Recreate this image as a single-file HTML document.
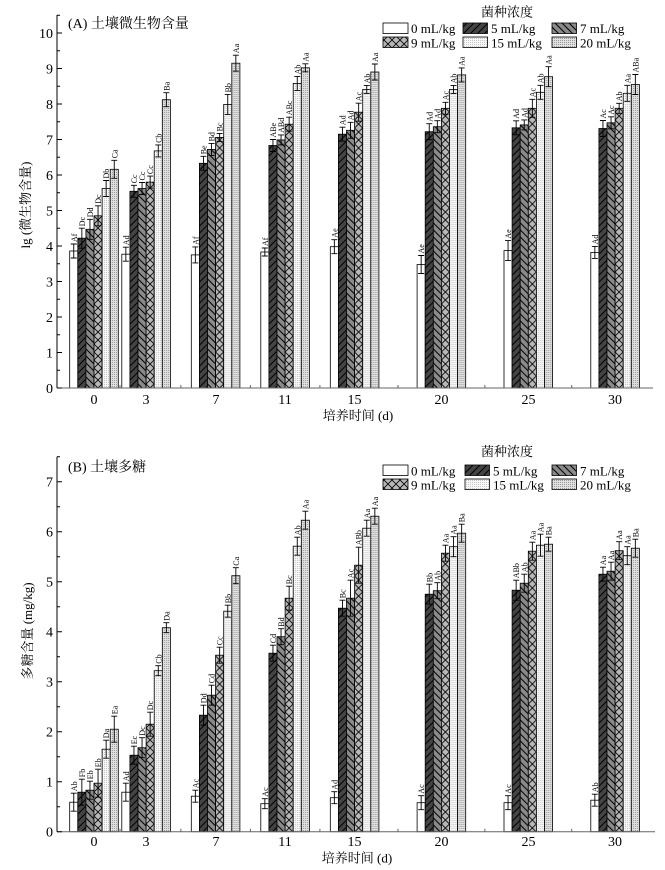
<!DOCTYPE html>
<html><head><meta charset="utf-8"><style>
html,body{margin:0;padding:0;background:#fff}
svg{display:block}
rect.b{stroke:#000;stroke-width:0.8}
.w{fill:#fff}.q5{fill:url(#p5)}.q7{fill:url(#p7)}.q9{fill:url(#p9)}.q15{fill:url(#p15)}.q20{fill:url(#p20)}
.e{stroke:#000;stroke-width:0.9;fill:none}
.l{font-family:"Liberation Serif",serif;font-size:8px;fill:#000}
.t{font-family:"Liberation Serif","Noto Serif CJK SC",serif;fill:#000}
.ax{stroke:#000;stroke-width:1;fill:none}
.xa{stroke:#666;stroke-width:1;fill:none}
</style></head><body>
<svg width="665" height="870" viewBox="0 0 665 870" xmlns="http://www.w3.org/2000/svg">
<defs>
<pattern id="p5" patternUnits="userSpaceOnUse" width="7" height="7"><rect width="7" height="7" fill="#444"/><path d="M0,7L7,0M-1,1L1,-1M6,8L8,6" stroke="#000" stroke-width="1"/></pattern>
<pattern id="p7" patternUnits="userSpaceOnUse" width="7" height="7"><rect width="7" height="7" fill="#8a8a8a"/><path d="M0,0L7,7M-1,6L1,8M6,-1L8,1" stroke="#000" stroke-width="1"/></pattern>
<pattern id="p9" patternUnits="userSpaceOnUse" width="8" height="8"><rect width="8" height="8" fill="#b8b8b8"/><path d="M0,0L8,8M0,8L8,0" stroke="#000" stroke-width="0.8"/></pattern>
<pattern id="p15" patternUnits="userSpaceOnUse" width="2" height="2"><rect width="2" height="2" fill="#f6f6f6"/><rect width="1" height="1" fill="#c8c8c8"/></pattern>
<pattern id="p20" patternUnits="userSpaceOnUse" width="2" height="2"><rect width="2" height="2" fill="#e0e0e0"/><rect width="1" height="1" fill="#9a9a9a"/></pattern>
</defs>
<rect width="665" height="870" fill="#fff"/>

<!-- ================= PANEL A ================= -->
<text class="t" x="68" y="28" font-size="14">(A) 土壤微生物含量</text>
<text class="t" x="507" y="16.5" font-size="13" text-anchor="middle">菌种浓度</text>
<rect class="b w" x="383" y="23" width="25" height="10.5"/>
<rect class="b q5" x="463" y="23" width="24.5" height="10.5"/>
<rect class="b q7" x="552" y="23" width="24.5" height="10.5"/>
<rect class="b q9" x="383" y="37" width="25" height="10.5"/>
<rect class="b q15" x="463" y="37" width="24.5" height="10.5"/>
<rect class="b q20" x="552" y="37" width="24.5" height="10.5"/>
<text class="t" font-size="13" x="411" y="33">0 mL/kg</text>
<text class="t" font-size="13" x="491" y="33">5 mL/kg</text>
<text class="t" font-size="13" x="580" y="33">7 mL/kg</text>
<text class="t" font-size="13" x="411" y="47.5">9 mL/kg</text>
<text class="t" font-size="13" x="491" y="47.5">15 mL/kg</text>
<text class="t" font-size="13" x="580" y="47.5">20 mL/kg</text>

<g transform="translate(94,0)">
<rect class="b w" x="-24.3" y="251" width="8.1" height="137"/>
<rect class="b q5" x="-16.2" y="238.2" width="8.1" height="149.8"/>
<rect class="b q7" x="-8.1" y="229.3" width="8.1" height="158.7"/>
<rect class="b q9" x="0" y="215.8" width="8.1" height="172.2"/>
<rect class="b q15" x="8.1" y="188.5" width="8.1" height="199.5"/>
<rect class="b q20" x="16.2" y="169.3" width="8.1" height="218.7"/>
<path class="e" d="M-20.25,244V258M-23.25,244h6M-23.25,258h6M-12.15,228.2V248.2M-15.15,228.2h6M-15.15,248.2h6M-4.05,219.3V239.3M-7.05,219.3h6M-7.05,239.3h6M4.05,205.8V225.8M1.05,205.8h6M1.05,225.8h6M12.15,180.5V196.5M9.15,180.5h6M9.15,196.5h6M20.25,160.3V178.3M17.25,160.3h6M17.25,178.3h6"/>
<text class="l" transform="translate(-17.25,242) rotate(-90)">Af</text>
<text class="l" transform="translate(-9.15,226.2) rotate(-90)">Dc</text>
<text class="l" transform="translate(-1.05,217.3) rotate(-90)">Dd</text>
<text class="l" transform="translate(7.05,203.8) rotate(-90)">Dc</text>
<text class="l" transform="translate(15.15,178.5) rotate(-90)">Db</text>
<text class="l" transform="translate(23.25,158.3) rotate(-90)">Ca</text>
</g>

<g transform="translate(146.1,0)">
<rect class="b w" x="-24.3" y="254.2" width="8.1" height="133.8"/>
<rect class="b q5" x="-16.2" y="191.3" width="8.1" height="196.7"/>
<rect class="b q7" x="-8.1" y="188.5" width="8.1" height="199.5"/>
<rect class="b q9" x="0" y="182.1" width="8.1" height="205.9"/>
<rect class="b q15" x="8.1" y="150.9" width="8.1" height="237.1"/>
<rect class="b q20" x="16.2" y="99.7" width="8.1" height="288.3"/>
<path class="e" d="M-20.25,247.2V261.2M-23.25,247.2h6M-23.25,261.2h6M-12.15,185.3V197.3M-15.15,185.3h6M-15.15,197.3h6M-4.05,182.5V194.5M-7.05,182.5h6M-7.05,194.5h6M4.05,176.1V188.1M1.05,176.1h6M1.05,188.1h6M12.15,144.9V156.9M9.15,144.9h6M9.15,156.9h6M20.25,92.7V106.7M17.25,92.7h6M17.25,106.7h6"/>
<text class="l" transform="translate(-17.25,245.2) rotate(-90)">Ad</text>
<text class="l" transform="translate(-9.15,183.3) rotate(-90)">Cc</text>
<text class="l" transform="translate(-1.05,180.5) rotate(-90)">Cc</text>
<text class="l" transform="translate(7.05,174.1) rotate(-90)">Cc</text>
<text class="l" transform="translate(15.15,142.9) rotate(-90)">Cb</text>
<text class="l" transform="translate(23.25,90.7) rotate(-90)">Ba</text>
</g>

<g transform="translate(215.6,0)">
<rect class="b w" x="-24.3" y="254.9" width="8.1" height="133.1"/>
<rect class="b q5" x="-16.2" y="163.3" width="8.1" height="224.7"/>
<rect class="b q7" x="-8.1" y="149.4" width="8.1" height="238.6"/>
<rect class="b q9" x="0" y="137.4" width="8.1" height="250.6"/>
<rect class="b q15" x="8.1" y="104.4" width="8.1" height="283.6"/>
<rect class="b q20" x="16.2" y="63.2" width="8.1" height="324.8"/>
<path class="e" d="M-20.25,246.9V262.9M-23.25,246.9h6M-23.25,262.9h6M-12.15,156.3V170.3M-15.15,156.3h6M-15.15,170.3h6M-4.05,143.4V155.4M-7.05,143.4h6M-7.05,155.4h6M4.05,133.4V141.4M1.05,133.4h6M1.05,141.4h6M12.15,94.4V114.4M9.15,94.4h6M9.15,114.4h6M20.25,55.2V71.2M17.25,55.2h6M17.25,71.2h6"/>
<text class="l" transform="translate(-17.25,244.9) rotate(-90)">Af</text>
<text class="l" transform="translate(-9.15,154.3) rotate(-90)">Be</text>
<text class="l" transform="translate(-1.05,141.4) rotate(-90)">Bd</text>
<text class="l" transform="translate(7.05,131.4) rotate(-90)">Bc</text>
<text class="l" transform="translate(15.15,92.4) rotate(-90)">Bb</text>
<text class="l" transform="translate(23.25,53.2) rotate(-90)">Aa</text>
</g>

<g transform="translate(285.1,0)">
<rect class="b w" x="-24.3" y="252" width="8.1" height="136"/>
<rect class="b q5" x="-16.2" y="145.5" width="8.1" height="242.5"/>
<rect class="b q7" x="-8.1" y="139.9" width="8.1" height="248.1"/>
<rect class="b q9" x="0" y="124.2" width="8.1" height="263.8"/>
<rect class="b q15" x="8.1" y="83.4" width="8.1" height="304.6"/>
<rect class="b q20" x="16.2" y="67.8" width="8.1" height="320.2"/>
<path class="e" d="M-20.25,248V256M-23.25,248h6M-23.25,256h6M-12.15,139.5V151.5M-15.15,139.5h6M-15.15,151.5h6M-4.05,134.9V144.9M-7.05,134.9h6M-7.05,144.9h6M4.05,117.2V131.2M1.05,117.2h6M1.05,131.2h6M12.15,76.4V90.4M9.15,76.4h6M9.15,90.4h6M20.25,63.8V71.8M17.25,63.8h6M17.25,71.8h6"/>
<text class="l" transform="translate(-17.25,246) rotate(-90)">Af</text>
<text class="l" transform="translate(-9.15,137.5) rotate(-90)">ABe</text>
<text class="l" transform="translate(-1.05,132.9) rotate(-90)">ABd</text>
<text class="l" transform="translate(7.05,115.2) rotate(-90)">ABc</text>
<text class="l" transform="translate(15.15,74.4) rotate(-90)">Ab</text>
<text class="l" transform="translate(23.25,61.8) rotate(-90)">Aa</text>
</g>

<g transform="translate(354.6,0)">
<rect class="b w" x="-24.3" y="246.7" width="8.1" height="141.3"/>
<rect class="b q5" x="-16.2" y="134.2" width="8.1" height="253.8"/>
<rect class="b q7" x="-8.1" y="130.3" width="8.1" height="257.7"/>
<rect class="b q9" x="0" y="112.2" width="8.1" height="275.8"/>
<rect class="b q15" x="8.1" y="89.4" width="8.1" height="298.6"/>
<rect class="b q20" x="16.2" y="72" width="8.1" height="316"/>
<path class="e" d="M-20.25,239.7V253.7M-23.25,239.7h6M-23.25,253.7h6M-12.15,127.2V141.2M-15.15,127.2h6M-15.15,141.2h6M-4.05,122.3V138.3M-7.05,122.3h6M-7.05,138.3h6M4.05,103.2V121.2M1.05,103.2h6M1.05,121.2h6M12.15,85.4V93.4M9.15,85.4h6M9.15,93.4h6M20.25,64V80M17.25,64h6M17.25,80h6"/>
<text class="l" transform="translate(-17.25,237.7) rotate(-90)">Ae</text>
<text class="l" transform="translate(-9.15,125.2) rotate(-90)">Ad</text>
<text class="l" transform="translate(-1.05,120.3) rotate(-90)">Ad</text>
<text class="l" transform="translate(7.05,101.2) rotate(-90)">Ac</text>
<text class="l" transform="translate(15.15,83.4) rotate(-90)">Ab</text>
<text class="l" transform="translate(23.25,62) rotate(-90)">Aa</text>
</g>

<g transform="translate(441.4,0)">
<rect class="b w" x="-24.3" y="264.5" width="8.1" height="123.5"/>
<rect class="b q5" x="-16.2" y="131.7" width="8.1" height="256.3"/>
<rect class="b q7" x="-8.1" y="126.7" width="8.1" height="261.3"/>
<rect class="b q9" x="0" y="108.3" width="8.1" height="279.7"/>
<rect class="b q15" x="8.1" y="89.4" width="8.1" height="298.6"/>
<rect class="b q20" x="16.2" y="74.9" width="8.1" height="313.1"/>
<path class="e" d="M-20.25,255.5V273.5M-23.25,255.5h6M-23.25,273.5h6M-12.15,123.7V139.7M-15.15,123.7h6M-15.15,139.7h6M-4.05,120.7V132.7M-7.05,120.7h6M-7.05,132.7h6M4.05,102.3V114.3M1.05,102.3h6M1.05,114.3h6M12.15,85.4V93.4M9.15,85.4h6M9.15,93.4h6M20.25,67.9V81.9M17.25,67.9h6M17.25,81.9h6"/>
<text class="l" transform="translate(-17.25,253.5) rotate(-90)">Ae</text>
<text class="l" transform="translate(-9.15,121.7) rotate(-90)">Ad</text>
<text class="l" transform="translate(-1.05,118.7) rotate(-90)">Ad</text>
<text class="l" transform="translate(7.05,100.3) rotate(-90)">Ac</text>
<text class="l" transform="translate(15.15,83.4) rotate(-90)">Ab</text>
<text class="l" transform="translate(23.25,65.9) rotate(-90)">Aa</text>
</g>

<g transform="translate(528.3,0)">
<rect class="b w" x="-24.3" y="250.6" width="8.1" height="137.4"/>
<rect class="b q5" x="-16.2" y="127.8" width="8.1" height="260.2"/>
<rect class="b q7" x="-8.1" y="124.9" width="8.1" height="263.1"/>
<rect class="b q9" x="0" y="108.3" width="8.1" height="279.7"/>
<rect class="b q15" x="8.1" y="92.3" width="8.1" height="295.7"/>
<rect class="b q20" x="16.2" y="76.7" width="8.1" height="311.3"/>
<path class="e" d="M-20.25,240.6V260.6M-23.25,240.6h6M-23.25,260.6h6M-12.15,120.8V134.8M-15.15,120.8h6M-15.15,134.8h6M-4.05,119.9V129.9M-7.05,119.9h6M-7.05,129.9h6M4.05,99.3V117.3M1.05,99.3h6M1.05,117.3h6M12.15,85.3V99.3M9.15,85.3h6M9.15,99.3h6M20.25,66.7V86.7M17.25,66.7h6M17.25,86.7h6"/>
<text class="l" transform="translate(-17.25,238.6) rotate(-90)">Ae</text>
<text class="l" transform="translate(-9.15,118.8) rotate(-90)">Ad</text>
<text class="l" transform="translate(-1.05,117.9) rotate(-90)">Ad</text>
<text class="l" transform="translate(7.05,97.3) rotate(-90)">Ac</text>
<text class="l" transform="translate(15.15,83.3) rotate(-90)">Ab</text>
<text class="l" transform="translate(23.25,64.7) rotate(-90)">Aa</text>
</g>

<g transform="translate(615.1,0)">
<rect class="b w" x="-24.3" y="252.4" width="8.1" height="135.6"/>
<rect class="b q5" x="-16.2" y="128.5" width="8.1" height="259.5"/>
<rect class="b q7" x="-8.1" y="122.8" width="8.1" height="265.2"/>
<rect class="b q9" x="0" y="108.3" width="8.1" height="279.7"/>
<rect class="b q15" x="8.1" y="93.3" width="8.1" height="294.7"/>
<rect class="b q20" x="16.2" y="84.5" width="8.1" height="303.5"/>
<path class="e" d="M-20.25,246.4V258.4M-23.25,246.4h6M-23.25,258.4h6M-12.15,120.5V136.5M-15.15,120.5h6M-15.15,136.5h6M-4.05,116.8V128.8M-7.05,116.8h6M-7.05,128.8h6M4.05,103.3V113.3M1.05,103.3h6M1.05,113.3h6M12.15,85.3V101.3M9.15,85.3h6M9.15,101.3h6M20.25,74.5V94.5M17.25,74.5h6M17.25,94.5h6"/>
<text class="l" transform="translate(-17.25,244.4) rotate(-90)">Ad</text>
<text class="l" transform="translate(-9.15,118.5) rotate(-90)">Ac</text>
<text class="l" transform="translate(-1.05,114.8) rotate(-90)">Ac</text>
<text class="l" transform="translate(7.05,101.3) rotate(-90)">Ab</text>
<text class="l" transform="translate(15.15,83.3) rotate(-90)">Aa</text>
<text class="l" transform="translate(23.25,72.5) rotate(-90)">ABa</text>
</g>

<!-- axes A -->
<path class="xa" d="M57,388H653M120,388v-3M180.9,388v-3M250.4,388v-3M319.9,388v-3M398,388v-3M484.9,388v-3M571.7,388v-3"/>
<path class="ax" d="M57,15V388M57,388h5M57,352.5h5M57,317h5M57,281.5h5M57,246h5M57,210.5h5M57,175h5M57,139.5h5M57,104h5M57,68.5h5M57,33h5M57,370.25h3M57,334.75h3M57,299.25h3M57,263.75h3M57,228.25h3M57,192.75h3M57,157.25h3M57,121.75h3M57,86.25h3M57,50.75h3M57,15.25h3"/>
<g class="t" font-size="14" text-anchor="end">
<text x="53" y="393">0</text><text x="53" y="357.5">1</text><text x="53" y="322">2</text><text x="53" y="286.5">3</text><text x="53" y="251">4</text><text x="53" y="215.5">5</text><text x="53" y="180">6</text><text x="53" y="144.5">7</text><text x="53" y="109">8</text><text x="53" y="73.5">9</text><text x="53" y="38">10</text>
</g>
<g class="t" font-size="14" text-anchor="middle">
<text x="94" y="404">0</text><text x="146" y="404">3</text><text x="216" y="404">7</text><text x="285" y="404">11</text><text x="354.5" y="404">15</text><text x="441.5" y="404">20</text><text x="528.5" y="404">25</text><text x="615" y="404">30</text>
</g>
<text class="t" font-size="13" x="358" y="420" text-anchor="middle">培养时间 (d)</text>
<text class="t" font-size="13" text-anchor="middle" transform="translate(30,205) rotate(-90)">lg (微生物含量)</text>

<!-- ================= PANEL B ================= -->
<text class="t" x="68" y="471.5" font-size="14">(B) 土壤多糖</text>
<text class="t" x="507" y="456" font-size="13" text-anchor="middle">菌种浓度</text>
<rect class="b w" x="383" y="465" width="25" height="10.5"/>
<rect class="b q5" x="465" y="465" width="24.5" height="10.5"/>
<rect class="b q7" x="552" y="465" width="24.5" height="10.5"/>
<rect class="b q9" x="383" y="479" width="25" height="10.5"/>
<rect class="b q15" x="465" y="479" width="24.5" height="10.5"/>
<rect class="b q20" x="552" y="479" width="24.5" height="10.5"/>
<text class="t" font-size="13" x="411" y="475.5">0 mL/kg</text>
<text class="t" font-size="13" x="493" y="475.5">5 mL/kg</text>
<text class="t" font-size="13" x="580" y="475.5">7 mL/kg</text>
<text class="t" font-size="13" x="411" y="489.5">9 mL/kg</text>
<text class="t" font-size="13" x="493" y="489.5">15 mL/kg</text>
<text class="t" font-size="13" x="580" y="489.5">20 mL/kg</text>

<g transform="translate(94,0)">
<rect class="b w" x="-24.3" y="802.2" width="8.1" height="29.5"/>
<rect class="b q5" x="-16.2" y="792.2" width="8.1" height="39.5"/>
<rect class="b q7" x="-8.1" y="790.2" width="8.1" height="41.5"/>
<rect class="b q9" x="0" y="783.2" width="8.1" height="48.5"/>
<rect class="b q15" x="8.1" y="749.2" width="8.1" height="82.5"/>
<rect class="b q20" x="16.2" y="729.2" width="8.1" height="102.5"/>
<path class="e" d="M-20.25,793.2V811.2M-23.25,793.2h6M-23.25,811.2h6M-12.15,779.2V805.2M-15.15,779.2h6M-15.15,805.2h6M-4.05,781.2V799.2M-7.05,781.2h6M-7.05,799.2h6M4.05,769.2V797.2M1.05,769.2h6M1.05,797.2h6M12.15,740.2V758.2M9.15,740.2h6M9.15,758.2h6M20.25,716.2V742.2M17.25,716.2h6M17.25,742.2h6"/>
<text class="l" transform="translate(-17.25,791.2) rotate(-90)">Ab</text>
<text class="l" transform="translate(-9.15,777.2) rotate(-90)">Fb</text>
<text class="l" transform="translate(-1.05,779.2) rotate(-90)">Eb</text>
<text class="l" transform="translate(7.05,767.2) rotate(-90)">Eb</text>
<text class="l" transform="translate(15.15,738.2) rotate(-90)">Da</text>
<text class="l" transform="translate(23.25,714.2) rotate(-90)">Ea</text>
</g>

<g transform="translate(146.1,0)">
<rect class="b w" x="-24.3" y="792.2" width="8.1" height="39.5"/>
<rect class="b q5" x="-16.2" y="755.2" width="8.1" height="76.5"/>
<rect class="b q7" x="-8.1" y="747.7" width="8.1" height="84"/>
<rect class="b q9" x="0" y="724.2" width="8.1" height="107.5"/>
<rect class="b q15" x="8.1" y="670.7" width="8.1" height="161"/>
<rect class="b q20" x="16.2" y="627.7" width="8.1" height="204"/>
<path class="e" d="M-20.25,783.2V801.2M-23.25,783.2h6M-23.25,801.2h6M-12.15,746.2V764.2M-15.15,746.2h6M-15.15,764.2h6M-4.05,737.7V757.7M-7.05,737.7h6M-7.05,757.7h6M4.05,712.2V736.2M1.05,712.2h6M1.05,736.2h6M12.15,665.7V675.7M9.15,665.7h6M9.15,675.7h6M20.25,622.7V632.7M17.25,622.7h6M17.25,632.7h6"/>
<text class="l" transform="translate(-17.25,781.2) rotate(-90)">Ad</text>
<text class="l" transform="translate(-9.15,744.2) rotate(-90)">Ec</text>
<text class="l" transform="translate(-1.05,735.7) rotate(-90)">Dc</text>
<text class="l" transform="translate(7.05,710.2) rotate(-90)">Dc</text>
<text class="l" transform="translate(15.15,663.7) rotate(-90)">Cb</text>
<text class="l" transform="translate(23.25,620.7) rotate(-90)">Da</text>
</g>

<g transform="translate(215.6,0)">
<rect class="b w" x="-24.3" y="796.2" width="8.1" height="35.5"/>
<rect class="b q5" x="-16.2" y="715.2" width="8.1" height="116.5"/>
<rect class="b q7" x="-8.1" y="695.2" width="8.1" height="136.5"/>
<rect class="b q9" x="0" y="655.2" width="8.1" height="176.5"/>
<rect class="b q15" x="8.1" y="611.2" width="8.1" height="220.5"/>
<rect class="b q20" x="16.2" y="575.7" width="8.1" height="256"/>
<path class="e" d="M-20.25,790.2V802.2M-23.25,790.2h6M-23.25,802.2h6M-12.15,705.2V725.2M-15.15,705.2h6M-15.15,725.2h6M-4.05,685.2V705.2M-7.05,685.2h6M-7.05,705.2h6M4.05,647.2V663.2M1.05,647.2h6M1.05,663.2h6M12.15,605.2V617.2M9.15,605.2h6M9.15,617.2h6M20.25,567.7V583.7M17.25,567.7h6M17.25,583.7h6"/>
<text class="l" transform="translate(-17.25,788.2) rotate(-90)">Ac</text>
<text class="l" transform="translate(-9.15,703.2) rotate(-90)">Dd</text>
<text class="l" transform="translate(-1.05,683.2) rotate(-90)">Cd</text>
<text class="l" transform="translate(7.05,645.2) rotate(-90)">Cc</text>
<text class="l" transform="translate(15.15,603.2) rotate(-90)">Bb</text>
<text class="l" transform="translate(23.25,565.7) rotate(-90)">Ca</text>
</g>

<g transform="translate(285.1,0)">
<rect class="b w" x="-24.3" y="803.7" width="8.1" height="28"/>
<rect class="b q5" x="-16.2" y="653.2" width="8.1" height="178.5"/>
<rect class="b q7" x="-8.1" y="636.7" width="8.1" height="195"/>
<rect class="b q9" x="0" y="598.2" width="8.1" height="233.5"/>
<rect class="b q15" x="8.1" y="546.2" width="8.1" height="285.5"/>
<rect class="b q20" x="16.2" y="520.2" width="8.1" height="311.5"/>
<path class="e" d="M-20.25,798.7V808.7M-23.25,798.7h6M-23.25,808.7h6M-12.15,645.2V661.2M-15.15,645.2h6M-15.15,661.2h6M-4.05,628.7V644.7M-7.05,628.7h6M-7.05,644.7h6M4.05,586.2V610.2M1.05,586.2h6M1.05,610.2h6M12.15,537.2V555.2M9.15,537.2h6M9.15,555.2h6M20.25,511.2V529.2M17.25,511.2h6M17.25,529.2h6"/>
<text class="l" transform="translate(-17.25,796.7) rotate(-90)">Ac</text>
<text class="l" transform="translate(-9.15,643.2) rotate(-90)">Cd</text>
<text class="l" transform="translate(-1.05,626.7) rotate(-90)">Bd</text>
<text class="l" transform="translate(7.05,584.2) rotate(-90)">Bc</text>
<text class="l" transform="translate(15.15,535.2) rotate(-90)">Ab</text>
<text class="l" transform="translate(23.25,509.2) rotate(-90)">Aa</text>
</g>

<g transform="translate(354.6,0)">
<rect class="b w" x="-24.3" y="797.7" width="8.1" height="34"/>
<rect class="b q5" x="-16.2" y="608.2" width="8.1" height="223.5"/>
<rect class="b q7" x="-8.1" y="598.2" width="8.1" height="233.5"/>
<rect class="b q9" x="0" y="565.2" width="8.1" height="266.5"/>
<rect class="b q15" x="8.1" y="528.2" width="8.1" height="303.5"/>
<rect class="b q20" x="16.2" y="516.2" width="8.1" height="315.5"/>
<path class="e" d="M-20.25,791.7V803.7M-23.25,791.7h6M-23.25,803.7h6M-12.15,600.2V616.2M-15.15,600.2h6M-15.15,616.2h6M-4.05,580.2V616.2M-7.05,580.2h6M-7.05,616.2h6M4.05,547.2V583.2M1.05,547.2h6M1.05,583.2h6M12.15,520.2V536.2M9.15,520.2h6M9.15,536.2h6M20.25,508.2V524.2M17.25,508.2h6M17.25,524.2h6"/>
<text class="l" transform="translate(-17.25,789.7) rotate(-90)">Ad</text>
<text class="l" transform="translate(-9.15,598.2) rotate(-90)">Bc</text>
<text class="l" transform="translate(-1.05,578.2) rotate(-90)">Ac</text>
<text class="l" transform="translate(7.05,545.2) rotate(-90)">ABb</text>
<text class="l" transform="translate(15.15,518.2) rotate(-90)">Aa</text>
<text class="l" transform="translate(23.25,506.2) rotate(-90)">Aa</text>
</g>

<g transform="translate(441.4,0)">
<rect class="b w" x="-24.3" y="802.7" width="8.1" height="29"/>
<rect class="b q5" x="-16.2" y="594.2" width="8.1" height="237.5"/>
<rect class="b q7" x="-8.1" y="590.7" width="8.1" height="241"/>
<rect class="b q9" x="0" y="553.2" width="8.1" height="278.5"/>
<rect class="b q15" x="8.1" y="546.7" width="8.1" height="285"/>
<rect class="b q20" x="16.2" y="533.2" width="8.1" height="298.5"/>
<path class="e" d="M-20.25,795.7V809.7M-23.25,795.7h6M-23.25,809.7h6M-12.15,584.2V604.2M-15.15,584.2h6M-15.15,604.2h6M-4.05,582.7V598.7M-7.05,582.7h6M-7.05,598.7h6M4.05,545.2V561.2M1.05,545.2h6M1.05,561.2h6M12.15,536.7V556.7M9.15,536.7h6M9.15,556.7h6M20.25,524.2V542.2M17.25,524.2h6M17.25,542.2h6"/>
<text class="l" transform="translate(-17.25,793.7) rotate(-90)">Ac</text>
<text class="l" transform="translate(-9.15,582.2) rotate(-90)">Bb</text>
<text class="l" transform="translate(-1.05,580.7) rotate(-90)">Ab</text>
<text class="l" transform="translate(7.05,543.2) rotate(-90)">Aa</text>
<text class="l" transform="translate(15.15,534.7) rotate(-90)">Aa</text>
<text class="l" transform="translate(23.25,522.2) rotate(-90)">Ba</text>
</g>

<g transform="translate(528.3,0)">
<rect class="b w" x="-24.3" y="802.7" width="8.1" height="29"/>
<rect class="b q5" x="-16.2" y="590.2" width="8.1" height="241.5"/>
<rect class="b q7" x="-8.1" y="583.2" width="8.1" height="248.5"/>
<rect class="b q9" x="0" y="551.2" width="8.1" height="280.5"/>
<rect class="b q15" x="8.1" y="545.2" width="8.1" height="286.5"/>
<rect class="b q20" x="16.2" y="544.2" width="8.1" height="287.5"/>
<path class="e" d="M-20.25,795.7V809.7M-23.25,795.7h6M-23.25,809.7h6M-12.15,580.2V600.2M-15.15,580.2h6M-15.15,600.2h6M-4.05,574.2V592.2M-7.05,574.2h6M-7.05,592.2h6M4.05,542.2V560.2M1.05,542.2h6M1.05,560.2h6M12.15,534.2V556.2M9.15,534.2h6M9.15,556.2h6M20.25,537.2V551.2M17.25,537.2h6M17.25,551.2h6"/>
<text class="l" transform="translate(-17.25,793.7) rotate(-90)">Ac</text>
<text class="l" transform="translate(-9.15,578.2) rotate(-90)">ABb</text>
<text class="l" transform="translate(-1.05,572.2) rotate(-90)">Ab</text>
<text class="l" transform="translate(7.05,540.2) rotate(-90)">Aa</text>
<text class="l" transform="translate(15.15,532.2) rotate(-90)">Aa</text>
<text class="l" transform="translate(23.25,535.2) rotate(-90)">Ba</text>
</g>

<g transform="translate(615.1,0)">
<rect class="b w" x="-24.3" y="800.2" width="8.1" height="31.5"/>
<rect class="b q5" x="-16.2" y="574.2" width="8.1" height="257.5"/>
<rect class="b q7" x="-8.1" y="571.2" width="8.1" height="260.5"/>
<rect class="b q9" x="0" y="550.7" width="8.1" height="281"/>
<rect class="b q15" x="8.1" y="555.7" width="8.1" height="276"/>
<rect class="b q20" x="16.2" y="548.2" width="8.1" height="283.5"/>
<path class="e" d="M-20.25,794.2V806.2M-23.25,794.2h6M-23.25,806.2h6M-12.15,567.2V581.2M-15.15,567.2h6M-15.15,581.2h6M-4.05,562.2V580.2M-7.05,562.2h6M-7.05,580.2h6M4.05,541.7V559.7M1.05,541.7h6M1.05,559.7h6M12.15,546.7V564.7M9.15,546.7h6M9.15,564.7h6M20.25,539.2V557.2M17.25,539.2h6M17.25,557.2h6"/>
<text class="l" transform="translate(-17.25,792.2) rotate(-90)">Ab</text>
<text class="l" transform="translate(-9.15,565.2) rotate(-90)">Aa</text>
<text class="l" transform="translate(-1.05,560.2) rotate(-90)">Aa</text>
<text class="l" transform="translate(7.05,539.7) rotate(-90)">Aa</text>
<text class="l" transform="translate(15.15,544.7) rotate(-90)">Aa</text>
<text class="l" transform="translate(23.25,537.2) rotate(-90)">Ba</text>
</g>

<!-- axes B -->
<path class="xa" d="M57,831.7H655M120,831.7v-3M180.9,831.7v-3M250.4,831.7v-3M319.9,831.7v-3M398,831.7v-3M484.9,831.7v-3M571.7,831.7v-3"/>
<path class="ax" d="M57,456.7V831.7M57,831.7h5M57,781.7h5M57,731.7h5M57,681.7h5M57,631.7h5M57,581.7h5M57,531.7h5M57,481.7h5M57,806.7h3M57,756.7h3M57,706.7h3M57,656.7h3M57,606.7h3M57,556.7h3M57,506.7h3M57,456.7h3"/>
<g class="t" font-size="14" text-anchor="end">
<text x="53" y="836.7">0</text><text x="53" y="786.7">1</text><text x="53" y="736.7">2</text><text x="53" y="686.7">3</text><text x="53" y="636.7">4</text><text x="53" y="586.7">5</text><text x="53" y="536.7">6</text><text x="53" y="486.7">7</text>
</g>
<g class="t" font-size="14" text-anchor="middle">
<text x="94" y="846">0</text><text x="146" y="846">3</text><text x="216" y="846">7</text><text x="285" y="846">11</text><text x="354.5" y="846">15</text><text x="441.5" y="846">20</text><text x="528.5" y="846">25</text><text x="615" y="846">30</text>
</g>
<text class="t" font-size="13" x="357" y="862.5" text-anchor="middle">培养时间 (d)</text>
<text class="t" font-size="13" text-anchor="middle" transform="translate(32,631) rotate(-90)">多糖含量 (mg/kg)</text>
</svg>
</body></html>
